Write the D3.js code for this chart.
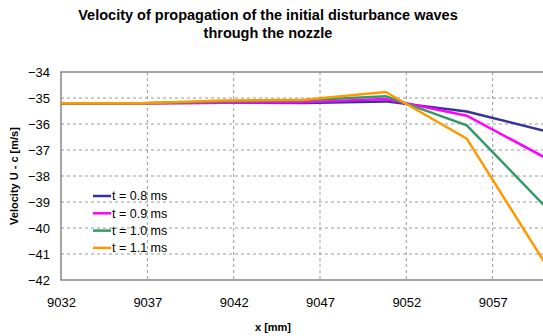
<!DOCTYPE html>
<html>
<head>
<meta charset="utf-8">
<script src="https://cdn.jsdelivr.net/npm/d3@7"></script>
<style>
  body { margin: 0; background: #fff; }
  svg { display: block; font-family: "Liberation Sans", Arial, sans-serif; }
</style>
</head>
<body>
<svg width="543" height="336"></svg>
<script>
// positions along the nozzle [mm]
var xPos = [9032, 9036.7, 9041.4, 9046.1, 9050.8, 9055.5, 9060.2];

// velocity U - c [m/s] per time step
var t08 = [-35.2, -35.2, -35.18, -35.19, -35.13, -35.52, -36.3];
var t09 = [-35.2, -35.2, -35.18, -35.16, -35.04, -35.68, -37.35];
var t10 = [-35.2, -35.2, -35.13, -35.09, -34.93, -36.05, -39.28];
var t11 = [-35.2, -35.2, -35.1, -35.07, -34.77, -36.56, -41.53];

var seriesNames = ["t = 0.8 ms", "t = 0.9 ms", "t = 1.0 ms", "t = 1.1 ms"];
var seriesColors = ["#333399", "#ff00ff", "#339966", "#ff9900"];

var xTicks = [9032, 9037, 9042, 9047, 9052, 9057];
var yTicks = [-34, -35, -36, -37, -38, -39, -40, -41, -42];

var svg = d3.select("svg"),
    margin = { top: 72, left: 61 },
    width = 518,   // plot runs past the right edge of the picture
    height = 208,
    g = svg.append("g").attr("transform", "translate(" + margin.left + "," + margin.top + ")");

var xScale = d3.scaleLinear().domain([9032, 9062]).range([0, width]),
    yScale = d3.scaleLinear().domain([-42, -34]).range([height, 0]);

var columns = [t08, t09, t10, t11].map(function (vals, i) {
    return {
        id: seriesNames[i],
        color: seriesColors[i],
        values: vals.map(function (v, j) { return { x: xPos[j], y: v }; })
    };
});

// title
var title = svg.append("text")
    .attr("text-anchor", "middle")
    .style("font-size", "14.5px")
    .style("font-weight", "bold");
title.append("tspan").attr("x", 268).attr("y", 20).text("Velocity of propagation of the initial disturbance waves");
title.append("tspan").attr("x", 268).attr("y", 38).text("through the nozzle");

// grid
g.append("g").selectAll("line")
    .data(yTicks.filter(function (d) { return d > -42 && d < -34; }))
    .enter().append("line")
    .attr("x1", 0).attr("x2", width)
    .attr("y1", yScale).attr("y2", yScale)
    .attr("stroke", "#999").attr("stroke-dasharray", "3,3").attr("stroke-width", 1);

g.append("g").selectAll("line")
    .data(xTicks.filter(function (d) { return d > 9032; }))
    .enter().append("line")
    .attr("x1", xScale).attr("x2", xScale)
    .attr("y1", 0).attr("y2", height)
    .attr("stroke", "#999").attr("stroke-dasharray", "3,3").attr("stroke-width", 1);

// border
g.append("path")
    .attr("d", "M" + width + ",0H0V" + height + "H" + width)
    .attr("fill", "none")
    .attr("stroke", "#888")
    .attr("stroke-width", 1.5);

// axes
var xAxis = d3.axisBottom(xScale).tickValues(xTicks).tickSize(0).tickPadding(18).tickFormat(d3.format("d"));
var gX = g.append("g")
    .attr("transform", "translate(0," + height + ")")
    .call(xAxis);
gX.select(".domain").remove();
gX.selectAll("text").style("font-size", "13px").attr("fill", "#000");

var yAxis = d3.axisLeft(yScale).tickValues(yTicks).tickSize(0).tickPadding(11).tickFormat(d3.format("d"));
var gY = g.append("g").call(yAxis);
gY.select(".domain").remove();
gY.selectAll("text").style("font-size", "13px").attr("fill", "#000");

svg.append("text")
    .attr("x", 273)
    .attr("y", 331)
    .attr("text-anchor", "middle")
    .style("font-size", "11px")
    .style("font-weight", "bold")
    .text("x [mm]");

svg.append("text")
    .attr("transform", "translate(18," + (margin.top + height / 2) + ") rotate(-90)")
    .attr("text-anchor", "middle")
    .style("font-size", "11px")
    .style("font-weight", "bold")
    .text("Velocity U - c [m/s]");

// lines
var line = d3.line()
    .x(function (d) { return xScale(d.x); })
    .y(function (d) { return yScale(d.y); });

g.selectAll(".series")
    .data(columns)
    .enter().append("path")
    .attr("class", "series")
    .attr("fill", "none")
    .attr("stroke-width", 2.5)
    .attr("stroke-linejoin", "miter")
    .style("stroke", function (d) { return d.color; })
    .attr("d", function (d) { return line(d.values); });

// legend
var legendRows = svg.append("g")
    .selectAll(".legend-row")
    .data(columns)
    .enter().append("g")
    .attr("class", "legend-row")
    .attr("transform", function (d, i) {
        return "translate(93," + (196 + i * 17.3) + ")";
    });

legendRows.append("line")
    .attr("x1", 0).attr("x2", 18)
    .attr("stroke-width", 2.5)
    .style("stroke", function (d) { return d.color; });

legendRows.append("text")
    .attr("x", 19)
    .attr("dy", "0.35em")
    .style("font-size", "12.5px")
    .text(function (d) { return d.id; });
</script>
</body>
</html>
